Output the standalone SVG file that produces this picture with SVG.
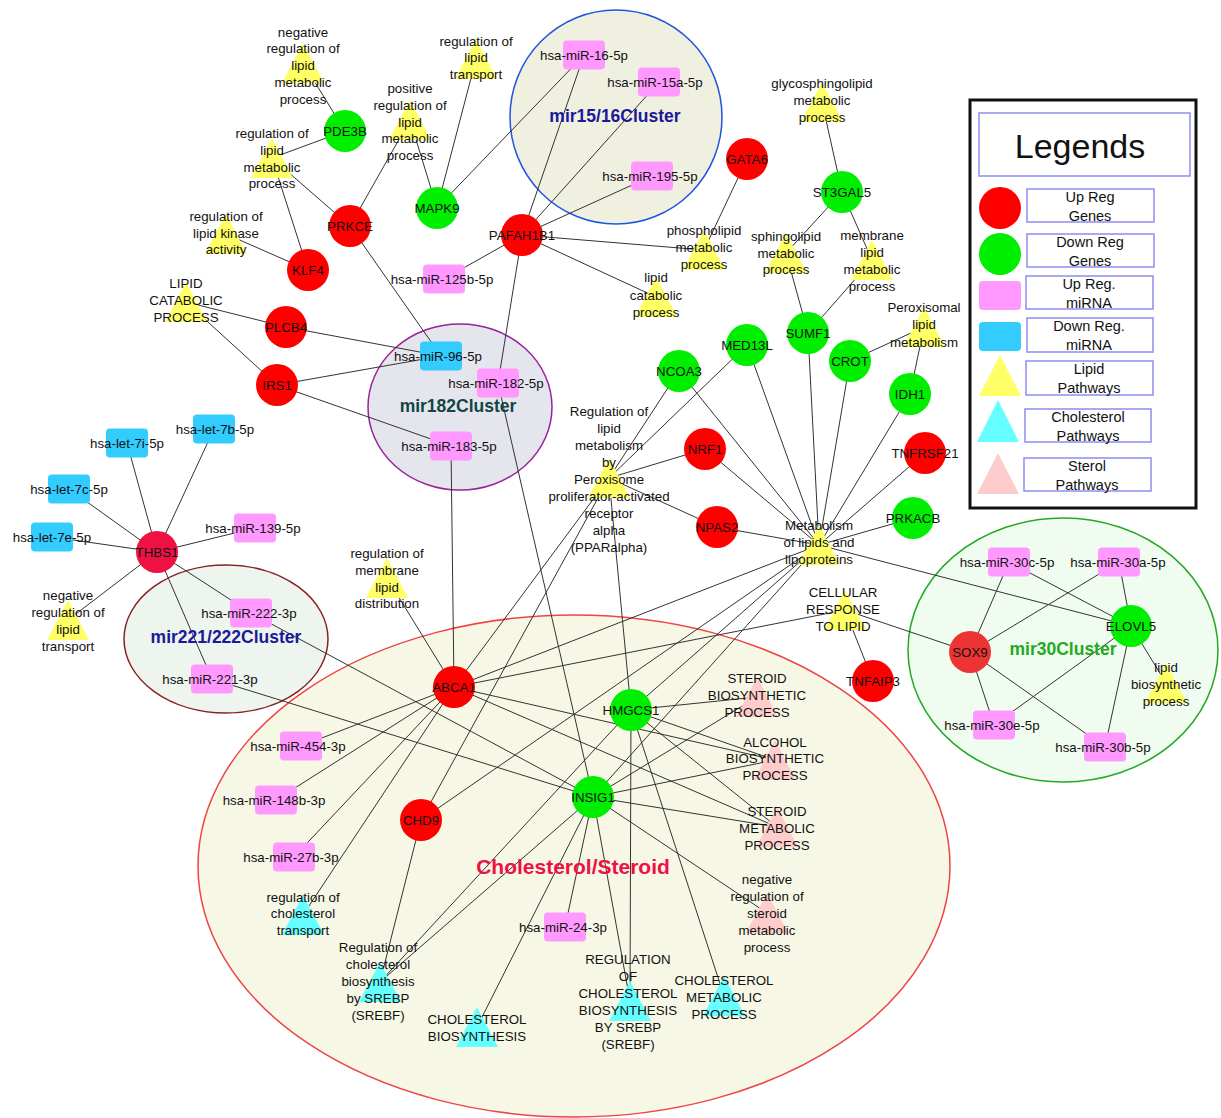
<svg xmlns="http://www.w3.org/2000/svg" width="1221" height="1118" viewBox="0 0 1221 1118">
<style>
text{font-family:"Liberation Sans",Arial,sans-serif;font-size:13.3px;fill:#111;text-anchor:middle}
.e line{stroke:#333;stroke-width:1}
.up{fill:#ff0000}.dn{fill:#00ee00}.pm{fill:#ff99ff}.bm{fill:#33ccff}
.ly{fill:#ffff66}.cy{fill:#66ffff}.st{fill:#ffcccc}
.cl text{font-weight:bold;font-size:17.5px}
text.lg{font-size:14.5px}
.lb{fill:#fff;stroke:#8c8cf0;stroke-width:1.5}
</style>
<defs>
<rect id="mr" x="-21" y="-14.5" width="42" height="29" rx="4"/>
<polygon id="tri" points="0,-20 -21,20 21,20"/>
</defs>
<rect width="1221" height="1118" fill="#fff"/>
<g id="clusters">
<ellipse cx="574" cy="866" rx="376" ry="251" fill="#f7f7e6" stroke="#e44" stroke-width="1.5"/>
<ellipse cx="616" cy="117" rx="106" ry="107" fill="#f0f0e1" stroke="#2255dd" stroke-width="1.5"/>
<ellipse cx="460" cy="407" rx="92" ry="83" fill="#e5e5ed" stroke="#992299" stroke-width="1.5"/>
<ellipse cx="226" cy="639" rx="102" ry="74" fill="#eef4ee" stroke="#882222" stroke-width="1.5"/>
<ellipse cx="1063" cy="650" rx="155" ry="132" fill="#f0fcf0" stroke="#22aa22" stroke-width="1.5"/>
</g>
<g id="edges" class="e">
<line x1="157" y1="552" x2="214" y2="429"/><line x1="157" y1="552" x2="127" y2="443"/><line x1="157" y1="552" x2="69" y2="489"/><line x1="157" y1="552" x2="52" y2="537"/><line x1="157" y1="552" x2="255" y2="528"/><line x1="157" y1="552" x2="251" y2="613"/><line x1="157" y1="552" x2="212" y2="679"/><line x1="157" y1="552" x2="68" y2="620"/>
<line x1="251" y1="613" x2="593" y2="797"/><line x1="212" y1="679" x2="593" y2="797"/>
<line x1="277" y1="385" x2="441" y2="356"/><line x1="277" y1="385" x2="451" y2="446"/><line x1="277" y1="385" x2="186" y2="302"/>
<line x1="286" y1="327" x2="441" y2="356"/><line x1="286" y1="327" x2="186" y2="302"/>
<line x1="308" y1="270" x2="226" y2="234"/><line x1="308" y1="270" x2="272" y2="158"/>
<line x1="350" y1="226" x2="272" y2="158"/><line x1="350" y1="226" x2="410" y2="120"/><line x1="350" y1="226" x2="441" y2="356"/>
<line x1="345" y1="131" x2="303" y2="63"/><line x1="345" y1="131" x2="272" y2="158"/>
<line x1="437" y1="208" x2="410" y2="120"/><line x1="437" y1="208" x2="476" y2="59"/><line x1="437" y1="208" x2="584" y2="55"/>
<line x1="522" y1="235" x2="584" y2="55"/><line x1="522" y1="235" x2="659" y2="82"/><line x1="522" y1="235" x2="652" y2="176"/><line x1="522" y1="235" x2="444" y2="279"/><line x1="522" y1="235" x2="704" y2="250"/><line x1="522" y1="235" x2="656" y2="297"/><line x1="522" y1="235" x2="498" y2="383"/>
<line x1="747" y1="159" x2="704" y2="250"/>
<line x1="842" y1="192" x2="822" y2="102"/><line x1="842" y1="192" x2="786" y2="253"/><line x1="842" y1="192" x2="872" y2="260"/>
<line x1="808" y1="333" x2="786" y2="253"/><line x1="808" y1="333" x2="872" y2="260"/><line x1="808" y1="333" x2="819" y2="545"/>
<line x1="850" y1="361" x2="924" y2="327"/><line x1="850" y1="361" x2="819" y2="545"/>
<line x1="910" y1="394" x2="924" y2="327"/><line x1="910" y1="394" x2="819" y2="545"/>
<line x1="747" y1="345" x2="609" y2="478"/><line x1="747" y1="345" x2="819" y2="545"/>
<line x1="679" y1="371" x2="609" y2="478"/><line x1="679" y1="371" x2="819" y2="545"/>
<line x1="705" y1="449" x2="609" y2="478"/><line x1="705" y1="449" x2="819" y2="545"/>
<line x1="717" y1="527" x2="609" y2="478"/><line x1="717" y1="527" x2="819" y2="545"/>
<line x1="925" y1="453" x2="819" y2="545"/><line x1="913" y1="518" x2="819" y2="545"/>
<line x1="819" y1="545" x2="1131" y2="626"/><line x1="819" y1="545" x2="454" y2="687"/><line x1="819" y1="545" x2="421" y2="820"/><line x1="819" y1="545" x2="631" y2="710"/><line x1="819" y1="545" x2="593" y2="797"/>
<line x1="609" y1="478" x2="454" y2="687"/><line x1="609" y1="478" x2="421" y2="820"/><line x1="609" y1="478" x2="631" y2="710"/>
<line x1="845" y1="610" x2="873" y2="681"/><line x1="845" y1="610" x2="970" y2="652"/><line x1="845" y1="610" x2="454" y2="687"/>
<line x1="451" y1="446" x2="454" y2="687"/><line x1="498" y1="383" x2="593" y2="797"/><line x1="387" y1="578" x2="454" y2="687"/>
<line x1="454" y1="687" x2="301" y2="746"/><line x1="454" y1="687" x2="276" y2="800"/><line x1="454" y1="687" x2="294" y2="857"/><line x1="454" y1="687" x2="303" y2="915"/><line x1="454" y1="687" x2="777" y2="827"/><line x1="454" y1="687" x2="775" y2="760"/>
<line x1="421" y1="820" x2="380" y2="982"/>
<line x1="593" y1="797" x2="565" y2="927"/><line x1="593" y1="797" x2="477" y2="1027"/><line x1="593" y1="797" x2="380" y2="982"/><line x1="593" y1="797" x2="630" y2="1001"/><line x1="593" y1="797" x2="757" y2="697"/><line x1="593" y1="797" x2="775" y2="760"/><line x1="593" y1="797" x2="777" y2="827"/><line x1="593" y1="797" x2="767" y2="913"/>
<line x1="631" y1="710" x2="757" y2="697"/><line x1="631" y1="710" x2="775" y2="760"/><line x1="631" y1="710" x2="777" y2="827"/><line x1="631" y1="710" x2="724" y2="996"/><line x1="631" y1="710" x2="630" y2="1001"/><line x1="631" y1="710" x2="380" y2="982"/>
<line x1="1131" y1="626" x2="1009" y2="562"/><line x1="1131" y1="626" x2="1119" y2="562"/><line x1="1131" y1="626" x2="994" y2="725"/><line x1="1131" y1="626" x2="1105" y2="747"/><line x1="1131" y1="626" x2="1166" y2="683"/>
<line x1="970" y1="652" x2="1009" y2="562"/><line x1="970" y1="652" x2="1119" y2="562"/><line x1="970" y1="652" x2="994" y2="725"/><line x1="970" y1="652" x2="1105" y2="747"/>
</g>
<g id="cluster-labels" class="cl">
<text x="615" y="122" style="fill:#1a1a99">mir15/16Cluster</text>
<text x="458" y="412" style="fill:#124545">mir182Cluster</text>
<text x="226" y="643" style="fill:#1a1a99">mir221/222Cluster</text>
<text x="1063" y="655" style="fill:#22aa22">mir30Cluster</text>
<text x="573" y="874" style="fill:#ee1144;font-size:21px">Cholesterol/Steroid</text>
</g>
<g id="T1"><use href="#tri" x="303" y="63" class="ly"/><text x="303" y="37">negative</text><text x="303" y="53">regulation of</text><text x="303" y="70">lipid</text><text x="303" y="87">metabolic</text><text x="303" y="104">process</text></g>
<g id="T2"><use href="#tri" x="272" y="158" class="ly"/><text x="272" y="138">regulation of</text><text x="272" y="155">lipid</text><text x="272" y="172">metabolic</text><text x="272" y="188">process</text></g>
<g id="T3"><use href="#tri" x="226" y="234" class="ly"/><text x="226" y="221">regulation of</text><text x="226" y="238">lipid kinase</text><text x="226" y="254">activity</text></g>
<g id="T4"><use href="#tri" x="186" y="302" class="ly"/><text x="186" y="288">LIPID</text><text x="186" y="305">CATABOLIC</text><text x="186" y="322">PROCESS</text></g>
<g id="T5"><use href="#tri" x="410" y="120" class="ly"/><text x="410" y="93">positive</text><text x="410" y="110">regulation of</text><text x="410" y="127">lipid</text><text x="410" y="143">metabolic</text><text x="410" y="160">process</text></g>
<g id="T6"><use href="#tri" x="476" y="59" class="ly"/><text x="476" y="46">regulation of</text><text x="476" y="62">lipid</text><text x="476" y="79">transport</text></g>
<g id="T7"><use href="#tri" x="822" y="102" class="ly"/><text x="822" y="88">glycosphingolipid</text><text x="822" y="105">metabolic</text><text x="822" y="122">process</text></g>
<g id="T8"><use href="#tri" x="704" y="250" class="ly"/><text x="704" y="235">phospholipid</text><text x="704" y="252">metabolic</text><text x="704" y="269">process</text></g>
<g id="T9"><use href="#tri" x="656" y="297" class="ly"/><text x="656" y="282">lipid</text><text x="656" y="300">catabolic</text><text x="656" y="317">process</text></g>
<g id="T10"><use href="#tri" x="786" y="253" class="ly"/><text x="786" y="241">sphingolipid</text><text x="786" y="258">metabolic</text><text x="786" y="274">process</text></g>
<g id="T11"><use href="#tri" x="872" y="260" class="ly"/><text x="872" y="240">membrane</text><text x="872" y="257">lipid</text><text x="872" y="274">metabolic</text><text x="872" y="291">process</text></g>
<g id="T12"><use href="#tri" x="924" y="327" class="ly"/><text x="924" y="312">Peroxisomal</text><text x="924" y="329">lipid</text><text x="924" y="347">metabolism</text></g>
<g id="T13"><use href="#tri" x="609" y="478" class="ly"/><text x="609" y="416">Regulation of</text><text x="609" y="433">lipid</text><text x="609" y="450">metabolism</text><text x="609" y="467">by</text><text x="609" y="484">Peroxisome</text><text x="609" y="501">proliferator-activated</text><text x="609" y="518">receptor</text><text x="609" y="535">alpha</text><text x="609" y="552">(PPARalpha)</text></g>
<g id="T14"><use href="#tri" x="387" y="578" class="ly"/><text x="387" y="558">regulation of</text><text x="387" y="575">membrane</text><text x="387" y="592">lipid</text><text x="387" y="608">distribution</text></g>
<g id="T15"><use href="#tri" x="68" y="620" class="ly"/><text x="68" y="600">negative</text><text x="68" y="617">regulation of</text><text x="68" y="634">lipid</text><text x="68" y="651">transport</text></g>
<g id="T16"><use href="#tri" x="819" y="545" class="ly"/><text x="819" y="530">Metabolism</text><text x="819" y="547">of lipids and</text><text x="819" y="564">lipoproteins</text></g>
<g id="T17"><use href="#tri" x="845" y="610" class="ly"/><text x="843" y="597">CELLULAR</text><text x="843" y="614">RESPONSE</text><text x="843" y="631">TO LIPID</text></g>
<g id="T18"><use href="#tri" x="1166" y="683" class="ly"/><text x="1166" y="672">lipid</text><text x="1166" y="689">biosynthetic</text><text x="1166" y="706">process</text></g>
<g id="T19"><use href="#tri" x="757" y="697" class="st"/><text x="757" y="683">STEROID</text><text x="757" y="700">BIOSYNTHETIC</text><text x="757" y="717">PROCESS</text></g>
<g id="T20"><use href="#tri" x="775" y="760" class="st"/><text x="775" y="747">ALCOHOL</text><text x="775" y="763">BIOSYNTHETIC</text><text x="775" y="780">PROCESS</text></g>
<g id="T21"><use href="#tri" x="777" y="827" class="st"/><text x="777" y="816">STEROID</text><text x="777" y="833">METABOLIC</text><text x="777" y="850">PROCESS</text></g>
<g id="T22"><use href="#tri" x="767" y="913" class="st"/><text x="767" y="884">negative</text><text x="767" y="901">regulation of</text><text x="767" y="918">steroid</text><text x="767" y="935">metabolic</text><text x="767" y="952">process</text></g>
<g id="T23"><use href="#tri" x="303" y="915" class="cy"/><text x="303" y="902">regulation of</text><text x="303" y="918">cholesterol</text><text x="303" y="935">transport</text></g>
<g id="T24"><use href="#tri" x="380" y="982" class="cy"/><text x="378" y="952">Regulation of</text><text x="378" y="969">cholesterol</text><text x="378" y="986">biosynthesis</text><text x="378" y="1003">by SREBP</text><text x="378" y="1020">(SREBF)</text></g>
<g id="T25"><use href="#tri" x="477" y="1027" class="cy"/><text x="477" y="1024">CHOLESTEROL</text><text x="477" y="1041">BIOSYNTHESIS</text></g>
<g id="T26"><use href="#tri" x="630" y="1001" class="cy"/><text x="628" y="964">REGULATION</text><text x="628" y="981">OF</text><text x="628" y="998">CHOLESTEROL</text><text x="628" y="1015">BIOSYNTHESIS</text><text x="628" y="1032">BY SREBP</text><text x="628" y="1049">(SREBF)</text></g>
<g id="T27"><use href="#tri" x="724" y="996" class="cy"/><text x="724" y="985">CHOLESTEROL</text><text x="724" y="1002">METABOLIC</text><text x="724" y="1019">PROCESS</text></g>
<g id="PDE3B"><circle cx="345" cy="131" r="21" class="dn"/><text x="345" y="136">PDE3B</text></g>
<g id="PRKCE"><circle cx="350" cy="226" r="21" class="up"/><text x="350" y="231">PRKCE</text></g>
<g id="MAPK9"><circle cx="437" cy="208" r="21" class="dn"/><text x="437" y="213">MAPK9</text></g>
<g id="KLF4"><circle cx="308" cy="270" r="21" class="up"/><text x="308" y="275">KLF4</text></g>
<g id="PLCB4"><circle cx="286" cy="327" r="21" class="up"/><text x="286" y="332">PLCB4</text></g>
<g id="IRS1"><circle cx="277" cy="385" r="21" class="up"/><text x="277" y="390">IRS1</text></g>
<g id="PAFAH1B1"><circle cx="522" cy="235" r="21" class="up"/><text x="522" y="240">PAFAH1B1</text></g>
<g id="GATA6"><circle cx="747" cy="159" r="21" class="up"/><text x="747" y="164">GATA6</text></g>
<g id="ST3GAL5"><circle cx="842" cy="192" r="21" class="dn"/><text x="842" y="197">ST3GAL5</text></g>
<g id="SUMF1"><circle cx="808" cy="333" r="21" class="dn"/><text x="808" y="338">SUMF1</text></g>
<g id="MED13L"><circle cx="747" cy="345" r="21" class="dn"/><text x="747" y="350">MED13L</text></g>
<g id="CROT"><circle cx="850" cy="361" r="21" class="dn"/><text x="850" y="366">CROT</text></g>
<g id="NCOA3"><circle cx="679" cy="371" r="21" class="dn"/><text x="679" y="376">NCOA3</text></g>
<g id="IDH1"><circle cx="910" cy="394" r="21" class="dn"/><text x="910" y="399">IDH1</text></g>
<g id="NRF1"><circle cx="705" cy="449" r="21" class="up"/><text x="705" y="454">NRF1</text></g>
<g id="TNFRSF21"><circle cx="925" cy="453" r="21" class="up"/><text x="925" y="458">TNFRSF21</text></g>
<g id="NPAS2"><circle cx="717" cy="527" r="21" class="up"/><text x="717" y="532">NPAS2</text></g>
<g id="PRKACB"><circle cx="913" cy="518" r="21" class="dn"/><text x="913" y="523">PRKACB</text></g>
<g id="TNFAIP3"><circle cx="873" cy="681" r="21" class="up"/><text x="873" y="686">TNFAIP3</text></g>
<g id="SOX9"><circle cx="970" cy="652" r="21" fill="#ee3333"/><text x="970" y="657">SOX9</text></g>
<g id="ELOVL5"><circle cx="1131" cy="626" r="21" class="dn"/><text x="1131" y="631">ELOVL5</text></g>
<g id="THBS1"><circle cx="157" cy="552" r="21" fill="#ee1144"/><text x="157" y="557">THBS1</text></g>
<g id="ABCA1"><circle cx="454" cy="687" r="21" class="up"/><text x="454" y="692">ABCA1</text></g>
<g id="HMGCS1"><circle cx="631" cy="710" r="21" class="dn"/><text x="631" y="715">HMGCS1</text></g>
<g id="INSIG1"><circle cx="593" cy="797" r="21" class="dn"/><text x="593" y="802">INSIG1</text></g>
<g id="CHD9"><circle cx="421" cy="820" r="21" class="up"/><text x="421" y="825">CHD9</text></g>
<g id="miR16"><use href="#mr" x="584" y="55" class="pm"/><text x="584" y="60">hsa-miR-16-5p</text></g>
<g id="miR15a"><use href="#mr" x="659" y="82" class="pm"/><text x="655" y="87">hsa-miR-15a-5p</text></g>
<g id="miR195"><use href="#mr" x="652" y="176" class="pm"/><text x="650" y="181">hsa-miR-195-5p</text></g>
<g id="miR125b"><use href="#mr" x="444" y="279" class="pm"/><text x="442" y="284">hsa-miR-125b-5p</text></g>
<g id="miR96"><use href="#mr" x="441" y="356" class="bm"/><text x="438" y="361">hsa-miR-96-5p</text></g>
<g id="miR182"><use href="#mr" x="498" y="383" class="pm"/><text x="496" y="388">hsa-miR-182-5p</text></g>
<g id="miR183"><use href="#mr" x="451" y="446" class="pm"/><text x="449" y="451">hsa-miR-183-5p</text></g>
<g id="let7b"><use href="#mr" x="214" y="429" class="bm"/><text x="215" y="434">hsa-let-7b-5p</text></g>
<g id="let7i"><use href="#mr" x="127" y="443" class="bm"/><text x="127" y="448">hsa-let-7i-5p</text></g>
<g id="let7c"><use href="#mr" x="69" y="489" class="bm"/><text x="69" y="494">hsa-let-7c-5p</text></g>
<g id="let7e"><use href="#mr" x="52" y="537" class="bm"/><text x="52" y="542">hsa-let-7e-5p</text></g>
<g id="miR139"><use href="#mr" x="255" y="528" class="pm"/><text x="253" y="533">hsa-miR-139-5p</text></g>
<g id="miR222"><use href="#mr" x="251" y="613" class="pm"/><text x="249" y="618">hsa-miR-222-3p</text></g>
<g id="miR221"><use href="#mr" x="212" y="679" class="pm"/><text x="210" y="684">hsa-miR-221-3p</text></g>
<g id="miR454"><use href="#mr" x="301" y="746" class="pm"/><text x="298" y="751">hsa-miR-454-3p</text></g>
<g id="miR148b"><use href="#mr" x="276" y="800" class="pm"/><text x="274" y="805">hsa-miR-148b-3p</text></g>
<g id="miR27b"><use href="#mr" x="294" y="857" class="pm"/><text x="291" y="862">hsa-miR-27b-3p</text></g>
<g id="miR24"><use href="#mr" x="565" y="927" class="pm"/><text x="563" y="932">hsa-miR-24-3p</text></g>
<g id="miR30c"><use href="#mr" x="1009" y="562" class="pm"/><text x="1007" y="567">hsa-miR-30c-5p</text></g>
<g id="miR30a"><use href="#mr" x="1119" y="562" class="pm"/><text x="1118" y="567">hsa-miR-30a-5p</text></g>
<g id="miR30e"><use href="#mr" x="994" y="725" class="pm"/><text x="992" y="730">hsa-miR-30e-5p</text></g>
<g id="miR30b"><use href="#mr" x="1105" y="747" class="pm"/><text x="1103" y="752">hsa-miR-30b-5p</text></g>
<g id="legend">
<rect x="970" y="100" width="226" height="408" fill="#fff" stroke="#111" stroke-width="3"/>
<rect x="979" y="113" width="211" height="63" class="lb"/>
<text x="1080" y="158" style="font-size:34px">Legends</text>
<circle cx="1000" cy="208" r="21" class="up"/><rect x="1027" y="189" width="127" height="33" class="lb"/><text x="1090" y="202" class="lg">Up Reg</text><text x="1090" y="221" class="lg">Genes</text>
<circle cx="1000" cy="254" r="21" class="dn"/><rect x="1027" y="234" width="127" height="33" class="lb"/><text x="1090" y="247" class="lg">Down Reg</text><text x="1090" y="266" class="lg">Genes</text>
<rect x="979" y="281" width="42" height="29" rx="4" class="pm"/><rect x="1026" y="276" width="127" height="33" class="lb"/><text x="1089" y="289" class="lg">Up Reg.</text><text x="1089" y="308" class="lg">miRNA</text>
<rect x="979" y="322" width="42" height="29" rx="4" class="bm"/><rect x="1027" y="318" width="126" height="34" class="lb"/><text x="1089" y="331" class="lg">Down Reg.</text><text x="1089" y="350" class="lg">miRNA</text>
<polygon points="1000,355 979,396 1021,396" class="ly"/><rect x="1026" y="361" width="127" height="34" class="lb"/><text x="1089" y="374" class="lg">Lipid</text><text x="1089" y="393" class="lg">Pathways</text>
<polygon points="998,400 977,442 1019,442" class="cy"/><rect x="1025" y="409" width="126" height="33" class="lb"/><text x="1088" y="422" class="lg">Cholesterol</text><text x="1088" y="441" class="lg">Pathways</text>
<polygon points="998,453 977,494 1019,494" class="st"/><rect x="1024" y="458" width="127" height="33" class="lb"/><text x="1087" y="471" class="lg">Sterol</text><text x="1087" y="490" class="lg">Pathways</text>
</g>
</svg>
